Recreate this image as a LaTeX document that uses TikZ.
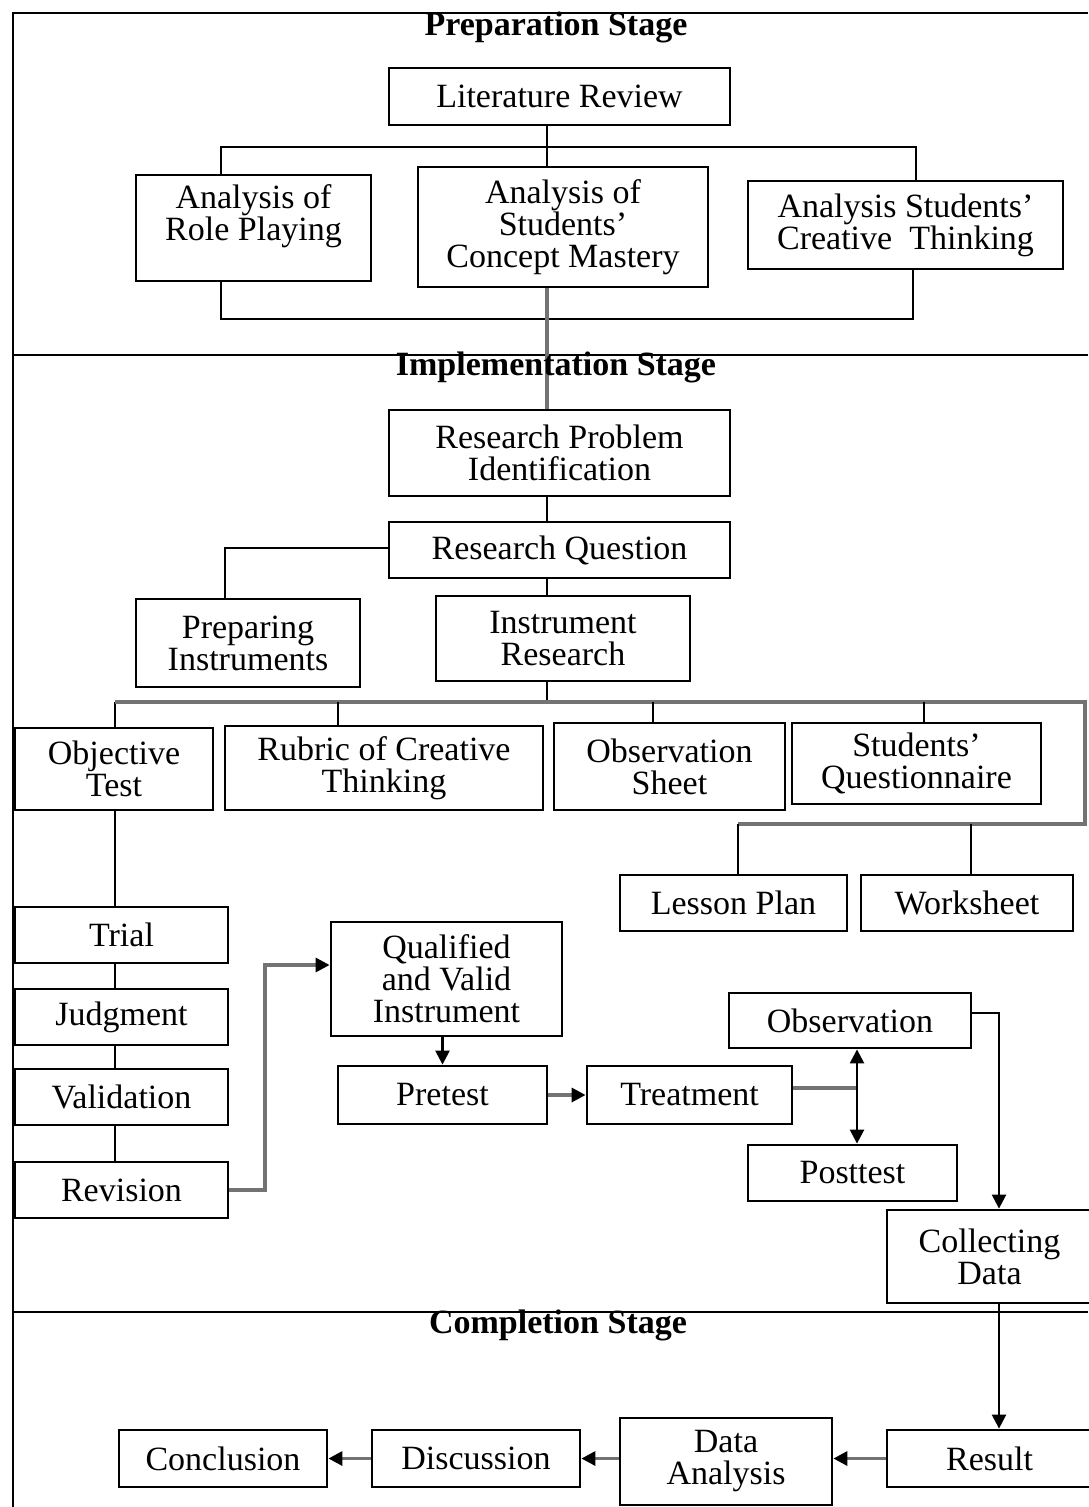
\documentclass[tikz,border=0pt]{standalone}
\usepackage{fontspec}
\setmainfont{Liberation Serif}
\usetikzlibrary{arrows.meta}
\begin{document}
\begin{tikzpicture}[x=0.5pt,y=-0.5pt,
  txt/.style={font=\fontsize{17}{16}\selectfont, align=center},
  box/.style={txt, draw, line width=1.4pt, inner sep=0pt},
  title/.style={font=\bfseries\fontsize{17}{16}\selectfont, inner sep=0pt},
  frame/.style={line width=1.3pt},
  conn/.style={line width=1.2pt},
  gconn/.style={line width=1.6pt, draw=black!55},
  arr/.style={conn, -{Triangle[length=7pt,width=7pt]}},
  garr/.style={gconn, arrows={-{Triangle[length=7pt,width=7pt,color=black]}}}
]
\useasboundingbox (0,0) rectangle (1088,1507);
% frame
\draw[frame] (13,1507) -- (13,13) -- (1088,13);
\draw[frame] (13,355) -- (1088,355);
\draw[frame] (13,1312) -- (1088,1312);
\node[title] (t1) at (556,27) {Preparation Stage};
\node[title] (t3) at (558,1325) {Completion Stage};

% preparation
\node[box, minimum width=170.5pt, minimum height=28.5pt] (lit) at (559.5,96.5) {Literature Review};
\node[box, minimum width=117.5pt, minimum height=53pt,
  label={[txt, yshift=6pt]center:Analysis of\\Role Playing}] (role) at (253.5,228) {};
\node[box, minimum width=145pt, minimum height=60pt] (mast) at (563,227) {Analysis of\\Students'\\Concept Mastery};
\node[box, minimum width=157.5pt, minimum height=44pt] (crea) at (905.5,225) {Analysis Students'\\Creative~ Thinking};

\coordinate (spine) at (547,0);
\coordinate (cR) at (221,147);
\coordinate (cC) at (916,147);
\coordinate (bL) at (221,319);
\coordinate (bR) at (913,319);
\draw[conn] (lit.south -| spine) -- (mast.north -| spine);
\draw[conn] (role.north -| cR) -- (cR) -- (cC) -- (crea.north -| cC);
\draw[conn] (role.south -| bL) -- (bL) -- (bR) -- (crea.south -| bR);

% implementation
\node[box, minimum width=170.5pt, minimum height=43pt] (rpi) at (559.5,453) {Research Problem\\Identification};
\draw[gconn] (mast.south -| spine) -- (rpi.north -| spine);
\node[title] (t2) at (556,367) {Implementation Stage};
\node[box, minimum width=170.5pt, minimum height=28pt] (rq) at (559.5,550) {Research Question};
\node[box, minimum width=112pt, minimum height=44pt] (prep) at (248,643) {Preparing\\Instruments};
\node[box, minimum width=127pt, minimum height=42.5pt] (ir) at (563,638.5) {Instrument\\Research};

\draw[conn] (rpi.south -| spine) -- (rq.north -| spine);
\coordinate (pq) at (225,548);
\draw[conn] (rq.west |- pq) -- (pq) -- (prep.north -| pq);
\draw[conn] (rq.south -| spine) -- (ir.north -| spine);

\node[box, minimum width=99pt, minimum height=41pt] (obj) at (114,769) {Objective\\Test};
\node[box, minimum width=159pt, minimum height=42pt] (rub) at (384,768) {Rubric of Creative\\Thinking};
\node[box, minimum width=115.5pt, minimum height=43.5pt] (obs) at (669.5,766.5) {Observation\\Sheet};
\node[box, minimum width=124.5pt, minimum height=40.5pt] (squ) at (916.5,763.5) {Students'\\Questionnaire};
\node[box, minimum width=113.5pt, minimum height=28pt] (lp) at (733.5,903) {Lesson Plan};
\node[box, minimum width=106pt, minimum height=28pt] (ws) at (967,903) {Worksheet};

\coordinate (b3L) at (115,702);
\coordinate (b3R) at (1085,702);
\coordinate (b4R) at (1085,824);
\coordinate (b4L) at (738,824);
\coordinate (wsx) at (971,824);
\coordinate (d2) at (338,702);
\coordinate (d3) at (653,702);
\coordinate (d4) at (924,702);
\draw[conn] (ir.south -| spine) -- (spine |- b3L);
\draw[conn] (obj.north -| b3L) -- (b3L);
\draw[gconn] (b3L) -- (b3R) -- (b4R) -- (b4L);
\draw[conn] (b4L) -- (lp.north -| b4L);
\draw[conn] (d2) -- (rub.north -| d2);
\draw[conn] (d3) -- (obs.north -| d3);
\draw[conn] (d4) -- (squ.north -| d4);
\draw[conn] (wsx) -- (ws.north -| wsx);

\node[box, minimum width=106.5pt, minimum height=28pt] (trial) at (121.5,935) {Trial};
\node[box, minimum width=106.5pt, minimum height=28pt] (judg) at (121.5,1017) {Judgment};
\node[box, minimum width=106.5pt, minimum height=28pt] (val) at (121.5,1097) {Validation};
\node[box, minimum width=106.5pt, minimum height=28pt] (rev) at (121.5,1190) {Revision};
\draw[conn] (obj.south -| b3L) -- (trial.north -| b3L);
\draw[conn] (trial.south -| b3L) -- (judg.north -| b3L);
\draw[conn] (judg.south -| b3L) -- (val.north -| b3L);
\draw[conn] (val.south -| b3L) -- (rev.north -| b3L);

\node[box, minimum width=115.5pt, minimum height=57pt] (qual) at (446.5,979) {Qualified\\and Valid\\Instrument};
\node[box, minimum width=104.5pt, minimum height=29pt] (pre) at (442.5,1095) {Pretest};
\node[box, minimum width=102.5pt, minimum height=29pt] (treat) at (689.5,1095) {Treatment};
\node[box, minimum width=121pt, minimum height=27.5pt] (obsv) at (850,1020.5) {Observation};
\node[box, minimum width=104.5pt, minimum height=28pt] (post) at (852.5,1173) {Posttest};
\node[box, minimum width=102.5pt, minimum height=46.5pt] (cd) at (989.5,1256.5) {Collecting\\Data};

\coordinate (rv) at (265,965);
\draw[garr] (rev.east) -- (rev.east -| rv) -- (rv) -- (qual.west |- rv);
\draw[arr] (qual.south -| pre.north) -- (pre.north);
\draw[garr] (pre.east) -- (treat.west);
\coordinate (tj) at (857,1088);
\draw[gconn] (treat.east |- tj) -- (tj);
\draw[arr] (tj) -- (obsv.south -| tj);
\draw[arr] (tj) -- (post.north -| tj);
\coordinate (oc) at (999,1013);
\draw[arr] (obsv.east |- oc) -- (oc) -- (cd.north -| oc);

% completion
\node[box, minimum width=102.5pt, minimum height=28.5pt] (res) at (989.5,1458.5) {Result};
\node[box, minimum width=106pt, minimum height=43.5pt] (da) at (726,1461.5) {Data\\Analysis};
\node[box, minimum width=104pt, minimum height=28.5pt] (disc) at (476,1458.5) {Discussion};
\node[box, minimum width=104pt, minimum height=28.5pt] (conc) at (223,1458.5) {Conclusion};

\draw[arr] (cd.south -| oc) -- (res.north -| oc);
\draw[garr] (res.west) -- (res.west -| da.east);
\draw[garr] (res.west -| da.west) -- (disc.east);
\draw[garr] (disc.west) -- (conc.east);
\end{tikzpicture}
\end{document}
